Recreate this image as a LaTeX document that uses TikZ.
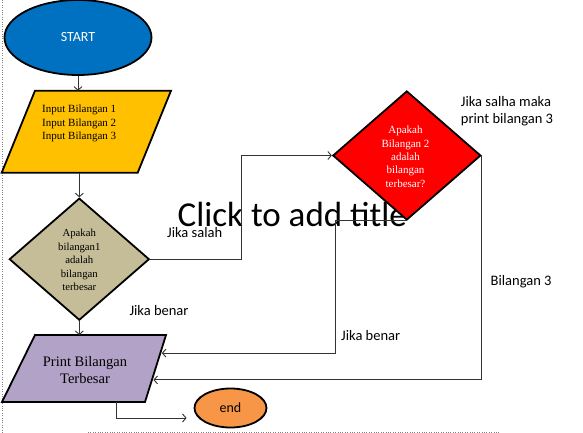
\documentclass[tikz,border=0pt]{standalone}
\usepackage{fontspec}
\setmainfont{Liberation Serif}
\newfontfamily\carlito{Carlito}
\usetikzlibrary{arrows.meta,positioning,calc,shapes.geometric}
\definecolor{startblue}{HTML}{0070C0}
\definecolor{inyellow}{HTML}{FFC000}
\definecolor{tandec}{HTML}{C4BD97}
\definecolor{lavprint}{HTML}{B2A2C7}
\definecolor{endorange}{HTML}{F79646}
\newcommand{\sz}[2]{\fontsize{#1}{#2}\selectfont}
\tikzset{
  term/.style={ellipse,draw,line width=1.8pt,inner sep=0pt},
  decision/.style={diamond,draw,line width=1.8pt,inner sep=0pt},
  io/.style={draw,line width=1.8pt,line join=miter},
  conn/.style={black!80,line width=0.9pt,-{Straight Barb[length=3.5pt,width=8pt]}},
  lbl/.style={font=\carlito\sz{14.5}{16.6},inner sep=0pt,align=left,anchor=west},
  serif/.style={inner sep=0pt,align=center},
}

\begin{document}
\begin{tikzpicture}[x=1pt,y=-1pt]
  \useasboundingbox (0,0) rectangle (583,433);
  % slide edges
  \draw[gray,dotted] (2.5,0) -- (2.5,433);
  \draw[gray,dotted] (88,432.3) -- (499,432.3);
  \node[font=\carlito\sz{35}{42},anchor=base,inner sep=0pt] (title) at (292.3,226.7) {Click to add title};

  % shapes
  \node[term,fill=startblue,minimum width=147pt,minimum height=75pt,
        font=\carlito\sz{14}{16},text=white] (start) at (78,37.5) {START};
  \draw[io,fill=inyellow] (35,90.7) coordinate (input-nw) -- (171,90.7) coordinate (input-ne)
        -- (137.7,172.7) coordinate (input-se) -- (1.7,172.7) coordinate (input-sw) -- cycle;
  \node[inner sep=0pt,align=left,anchor=west,font=\sz{11}{13.7}] (inputtxt)
        at (42,123.5) {Input Bilangan 1\\Input Bilangan 2\\Input Bilangan 3};
  \node[decision,fill=tandec,minimum width=140pt,minimum height=122pt] (d1) at (79.3,259.2) {};
  \node[serif,font=\sz{10.7}{13.5}] (d1txt) at (79.3,260)
        {Apakah\\bilangan1\\adalah\\bilangan\\terbesar};
  \draw[io,fill=lavprint] (35,335) coordinate (print-nw) -- (166,335) coordinate (print-ne)
        -- (145,402) coordinate (print-se) -- (2,402) coordinate (print-sw) -- cycle;
  \node[serif,font=\sz{14.5}{16.5}] (printtxt) at (85,370) {Print Bilangan\\Terbesar};
  \node[decision,fill=red,minimum width=148pt,minimum height=129pt] (d2) at (406.8,155.5) {};
  \node[serif,text=white,font=\sz{11}{13.3}] (d2txt) at (405.5,156.7)
        {Apakah\\Bilangan 2\\adalah\\bilangan\\terbesar?};
  \node[term,fill=endorange,minimum width=72pt,minimum height=39pt,
        font=\carlito\sz{14}{16}] (end) at (230.5,408) {end};

  % connectors
  \coordinate (inA) at ($(print-ne)!0.27!(print-se)+(1.5,0)$);
  \coordinate (inB) at ($(print-ne)!0.67!(print-se)+(1.5,0)$);
  \coordinate (out) at ($(print-sw)!0.8!(print-se)$);
  \draw[conn] (start.south) -- (start.south |- input-nw);
  \draw[conn] (d1.north |- input-sw) -- (d1.north);
  \draw[conn] (d1.south) -- (d1.south |- print-nw);
  \draw[conn] (d1.east) -- ++(91.4,0) |- (d2.west);
  \draw[conn] (d2.south) -- ++(-71,0) |- (inA);
  \draw[conn] (d2.east) |- (inB);
  \draw[conn] (out) |- ($(end.west)+(-7,10)$);

  % labels
  \node[lbl] (lsalah) at (167,232.7) {Jika salah};
  \node[lbl] (lbenar) at (129.3,310.7) {Jika benar};
  \node[lbl] (lbenar2) at (341,335.7) {Jika benar};
  \node[lbl] (lbil3) at (490.5,282) {Bilangan 3};
  \node[lbl] (lsalha) at (460.7,111) {Jika salha maka\\print bilangan 3};
\end{tikzpicture}
\end{document}
